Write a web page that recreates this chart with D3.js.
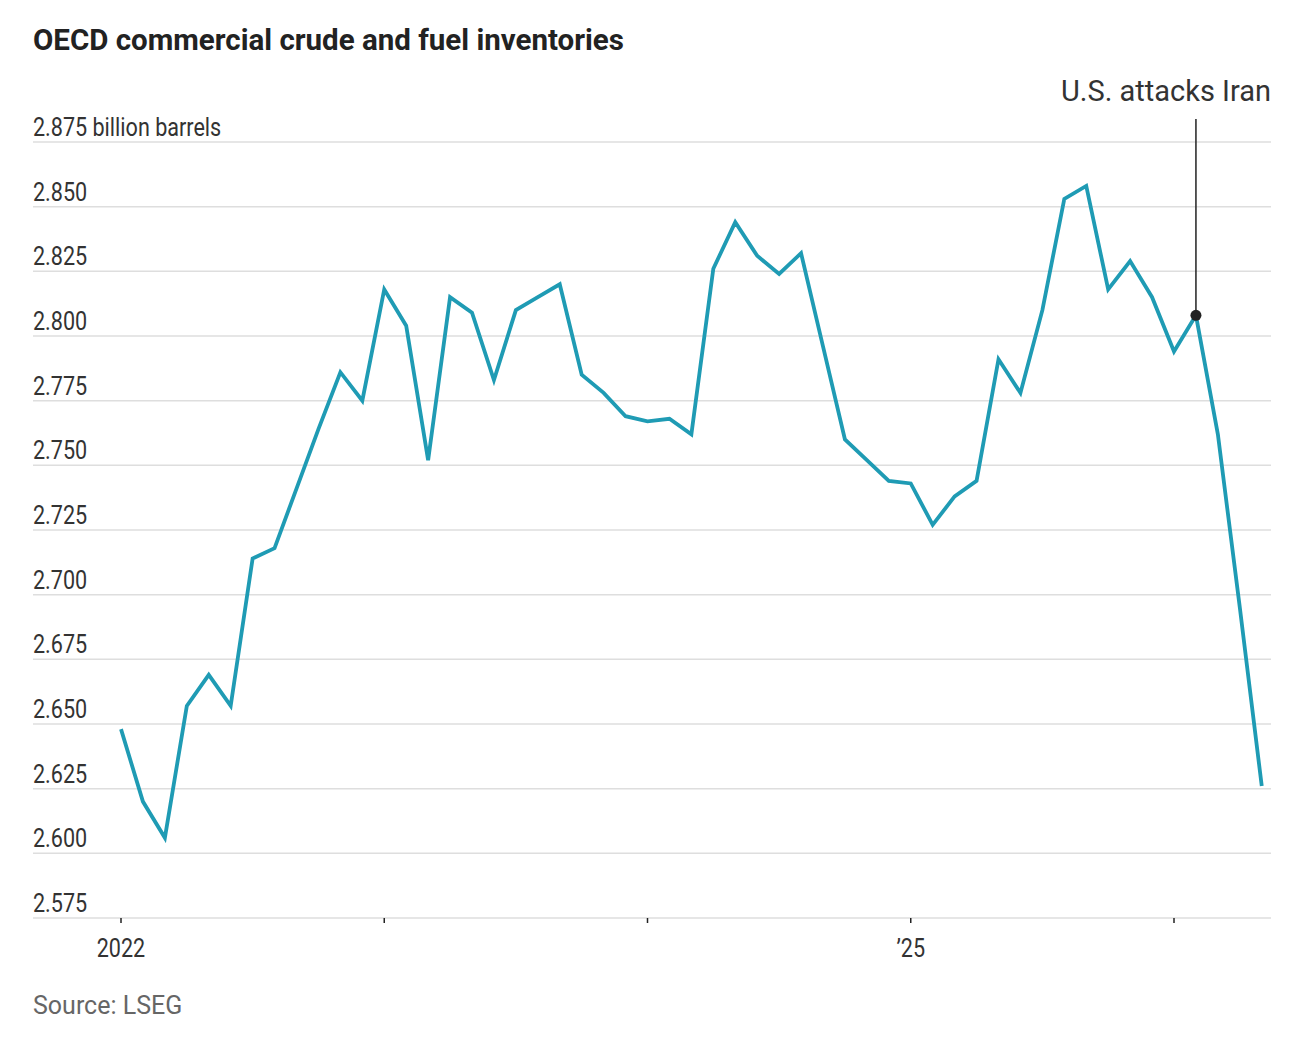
<!doctype html>
<html>
  <head>
    <meta charset="utf-8">
    <title>OECD commercial crude and fuel inventories</title>
    <script src="https://cdn.jsdelivr.net/npm/d3@7"></script>
    <style>
    body {
      margin: 0;
      background: #fff;
    }
    .title {
      font: bold 29.5px Roboto, sans-serif;
      fill: #222;
    }
    .tick-label {
      font: 26px Roboto, sans-serif;
      fill: #333;
    }
    .note {
      font: 29px Roboto, sans-serif;
      fill: #333;
    }
    .source {
      font: 25px Roboto, sans-serif;
      fill: #666;
    }
    </style>
  </head>
  <body>
    <script>
      var w_svg = 1298;
      var h_svg = 1054;

      // monthly inventories, Jan 2022 .. May 2026, billion barrels
      var months = d3.timeMonth.range(new Date(2022, 0, 1), new Date(2026, 5, 1));
      var inventories = [
        2.648, 2.620, 2.606, 2.657, 2.669, 2.657, 2.714, 2.718, 2.741, 2.764, 2.786, 2.775,
        2.818, 2.804, 2.752, 2.815, 2.809, 2.783, 2.810, 2.815, 2.820, 2.785, 2.778, 2.769,
        2.767, 2.768, 2.762, 2.826, 2.844, 2.831, 2.824, 2.832, 2.796, 2.760, 2.752, 2.744,
        2.743, 2.727, 2.738, 2.744, 2.791, 2.778, 2.810, 2.853, 2.858, 2.818, 2.829, 2.815,
        2.794, 2.808, 2.762, 2.695, 2.626
      ];

      var y_ticks = [2.575, 2.600, 2.625, 2.650, 2.675, 2.700, 2.725, 2.750, 2.775, 2.800, 2.825, 2.850, 2.875];
      var x_ticks = [new Date(2022, 0, 1), new Date(2023, 0, 1), new Date(2024, 0, 1), new Date(2025, 0, 1), new Date(2026, 0, 1)];
      var x_tick_labels = ["2022", "", "", "\u201925", ""];

      var event_date = new Date(2026, 1, 1);
      var event_label = "U.S. attacks Iran";

      // month index from Jan 2022, so every month gets the same width
      function month_index(d) {
        return (d.getFullYear() - 2022) * 12 + d.getMonth();
      }

      var x = d3.scaleLinear().domain([0, 48]).range([121, 1174]);
      var y = d3.scaleLinear().domain([2.575, 2.875]).range([918, 142]);
      var grid_left = 33, grid_right = 1271;
      var narrow = 0.83; // no narrow face installed, squeeze the tick labels instead

      var svg = d3.select("body")
                  .append("svg")
                  .attr("width", w_svg)
                  .attr("height", h_svg);

      svg.append("text")
         .attr("class", "title")
         .attr("x", 33)
         .attr("y", 50)
         .text("OECD commercial crude and fuel inventories");

      //grid lines
      svg.append("g")
         .selectAll("line")
         .data(y_ticks)
         .enter().append("line")
         .attr("x1", grid_left)
         .attr("x2", grid_right)
         .attr("y1", function(d) { return y(d); })
         .attr("y2", function(d) { return y(d); })
         .attr("stroke", "#dedede")
         .attr("stroke-width", 1.5);

      //y labels sit on top of their grid line
      svg.append("g")
         .selectAll("text")
         .data(y_ticks)
         .enter().append("text")
         .attr("class", "tick-label")
         .attr("transform", function(d) {
           return "translate(" + grid_left + "," + (y(d) - 6) + ") scale(" + narrow + ",1)";
         })
         .text(function(d, i) {
           var s = d3.format(".3f")(d);
           return i == y_ticks.length - 1 ? s + " billion barrels" : s;
         });

      //x axis ticks
      var xg = svg.append("g");
      xg.selectAll("line")
        .data(x_ticks)
        .enter().append("line")
        .attr("x1", function(d) { return x(month_index(d)); })
        .attr("x2", function(d) { return x(month_index(d)); })
        .attr("y1", y(2.575))
        .attr("y2", y(2.575) + 5)
        .attr("stroke", "#222")
        .attr("stroke-width", 1.5);
      xg.selectAll("text")
        .data(x_ticks)
        .enter().append("text")
        .attr("class", "tick-label")
        .attr("text-anchor", "middle")
        .attr("transform", function(d) {
          return "translate(" + x(month_index(d)) + ",957) scale(" + narrow + ",1)";
        })
        .text(function(d, i) { return x_tick_labels[i]; });

      //the series
      var line = d3.line()
                   .x(function(d, i) { return x(month_index(months[i])); })
                   .y(function(d) { return y(d); });

      svg.append("path")
         .datum(inventories)
         .attr("d", line)
         .attr("fill", "none")
         .attr("stroke", "#1f9bb4")
         .attr("stroke-width", 3.8)
         .attr("stroke-linejoin", "miter");

      //annotation
      var ei = month_index(event_date);
      var ex = x(ei), ey = y(inventories[ei]);
      svg.append("line")
         .attr("x1", ex).attr("x2", ex)
         .attr("y1", 119).attr("y2", ey)
         .attr("stroke", "#222")
         .attr("stroke-width", 1.5);
      svg.append("circle")
         .attr("cx", ex)
         .attr("cy", ey)
         .attr("r", 5.5)
         .attr("fill", "#222");
      svg.append("text")
         .attr("class", "note")
         .attr("text-anchor", "end")
         .attr("x", 1271)
         .attr("y", 101)
         .text(event_label);

      svg.append("text")
         .attr("class", "source")
         .attr("x", 33)
         .attr("y", 1014)
         .text("Source: LSEG");
    </script>
  </body>
</html>
